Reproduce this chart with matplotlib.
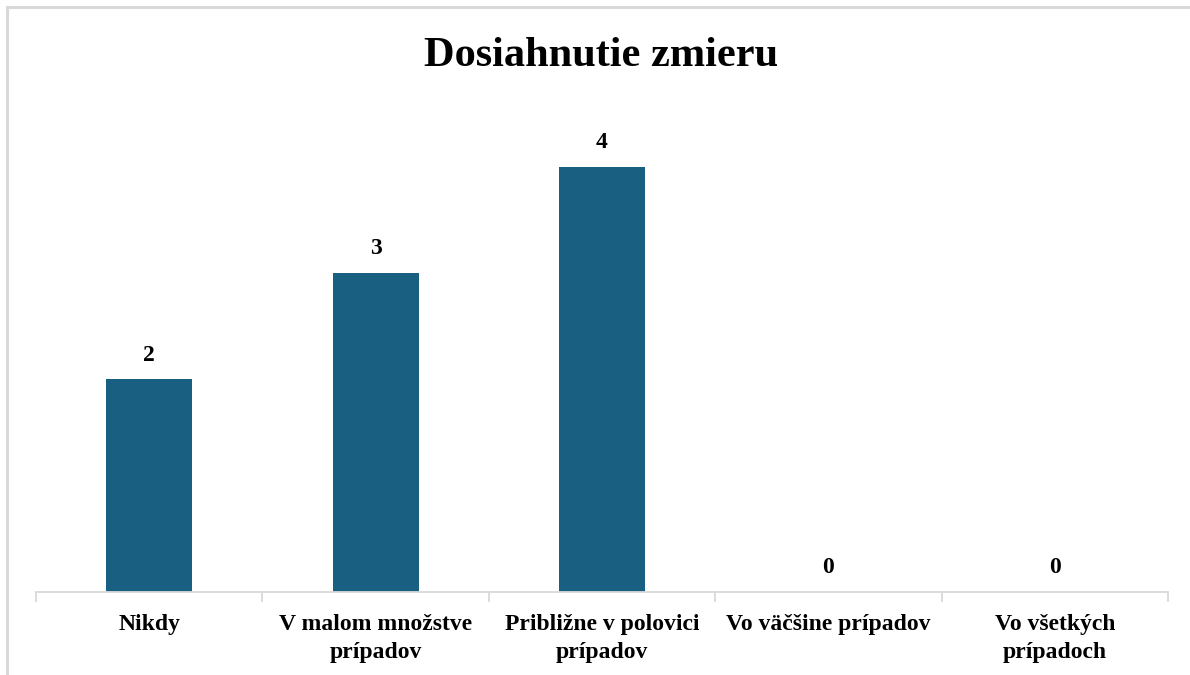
import matplotlib.pyplot as plt
from matplotlib.patches import Rectangle

kategorie = ["Nikdy", "V malom množstve\nprípadov", "Približne v polovici\nprípadov",
             "Vo väčšine prípadov", "Vo všetkých\nprípadoch"]
hodnoty = [2, 3, 4, 0, 0]

plt.rcParams['font.family'] = ['Liberation Serif', 'DejaVu Serif']
plt.rcParams['font.weight'] = 'bold'

W, H = 1190, 675
fig = plt.figure(figsize=(W / 100, H / 100), dpi=100)

# light gray frame (cropped on right/bottom in the original)
fig.patches.append(Rectangle((7 / W, -0.1), 1.2, 1 - 7 / H + 0.1, transform=fig.transFigure,
                             fill=False, edgecolor="#D9D9D9", linewidth=2.2))

ax = fig.add_axes([36 / W, (H - 592) / H, (1168 - 36) / W, (592 - 100) / H])
x = range(len(kategorie))
ax.bar(x, hodnoty, width=0.38, color="#185F82")
for i, v in enumerate(hodnoty):
    ax.text(i, v + 0.13, str(v), ha="center", va="bottom", fontsize=17, fontweight="bold")

ax.set_xlim(-0.5, len(kategorie) - 0.5)
ax.set_ylim(0, 4.63)
ax.set_yticks([])
ax.set_xticks([i + 0.5 for i in range(-1, len(kategorie))], minor=False)
ax.set_xticklabels([])
ax.tick_params(axis="x", length=7, color="#D9D9D9", width=1.3)
ax.set_xticks(list(x), minor=True)
ax.set_xticklabels(kategorie, minor=True, fontsize=17, fontweight="bold", linespacing=1.4)
ax.tick_params(axis="x", which="minor", length=0, pad=16)
for s in ["top", "right", "left"]:
    ax.spines[s].set_visible(False)
ax.spines["bottom"].set_color("#D9D9D9")
ax.spines["bottom"].set_linewidth(1.3)

fig.text(601 / W, (H - 56) / H, "Dosiahnutie zmieru", ha="center", va="center",
         fontsize=30.5, fontweight="bold")

fig.savefig("out.png", dpi=100)
